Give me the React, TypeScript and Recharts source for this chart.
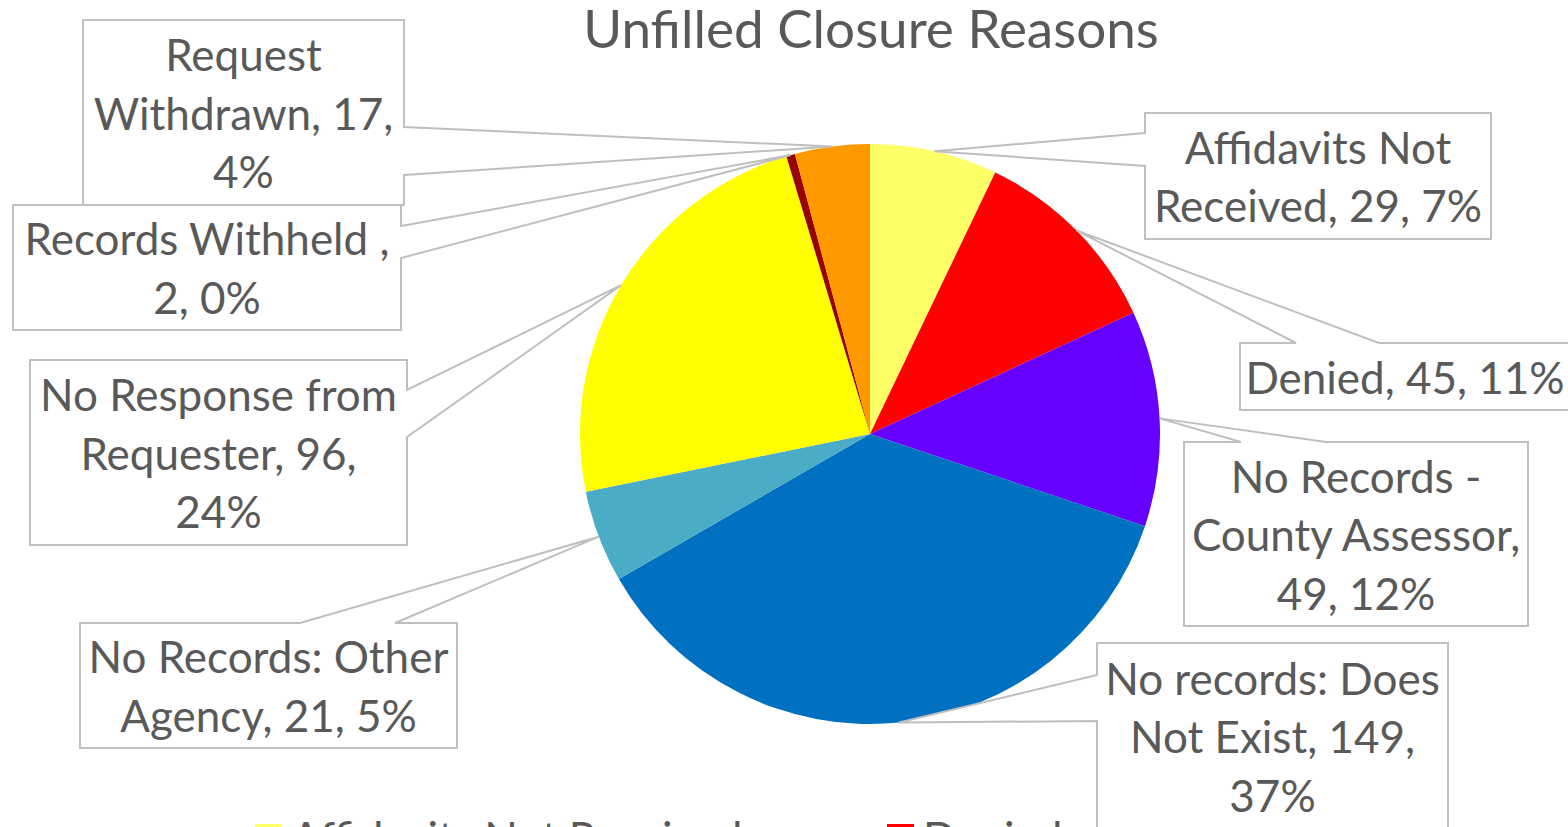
import { Cell, Legend, Pie, PieChart } from "recharts"

const reasons = [
  "Affidavits Not Received",
  "Denied",
  "No Records - County Assessor",
  "No records: Does Not Exist",
  "No Records: Other Agency",
  "No Response from Requester",
  "Records Withheld ",
  "Request Withdrawn",
]
const counts = [29, 45, 49, 149, 21, 96, 2, 17]
const colors = [
  "#FFFF66",
  "#FF0000",
  "#6600FF",
  "#0070C0",
  "#4BACC6",
  "#FFFF00",
  "#990000",
  "#FF9900",
]
// how many words of "name, value, pct%" go on each line of a callout
const wordsPerLine = [[2, 3], [3], [3, 2, 2], [3, 3, 1], [3, 3], [3, 2, 1], [3, 2], [1, 2, 1]]

const data = reasons.map((name, i) => ({ name, value: counts[i] }))

// callout boxes (layout only): side the pointer leaves from, a/b = pointer base offsets on that side
const callouts = [
  { x: 1145, y: 113, w: 346, h: 126, side: "left", a: 20, b: 53 },
  { x: 1240, y: 343, w: 330, h: 67, side: "top", a: 56, b: 139 },
  { x: 1184, y: 442, w: 344, h: 184, side: "top", a: 57, b: 142 },
  { x: 1097, y: 643, w: 351, h: 186, side: "left", a: 32, b: 78 },
  { x: 80, y: 623, w: 377, h: 125, side: "top", a: 220, b: 315 },
  { x: 30, y: 360, w: 377, h: 185, side: "right", a: 30, b: 77 },
  { x: 13, y: 205, w: 388, h: 125, side: "right", a: 21, b: 53 },
  { x: 83, y: 20, w: 321, h: 185, side: "right", a: 107, b: 155 },
]

const FONT = "Lato, 'Open Sans', sans-serif"
const TEXT = "#595959"
const LINE = "#BFBFBF"
const RAD = Math.PI / 180

const calloutPath = (
  box: (typeof callouts)[number],
  tx: number,
  ty: number,
) => {
  const { x, y, w, h, side, a, b } = box
  const tip = `L${tx},${ty}`
  let d = `M${x},${y}`
  if (side === "top") d += ` L${x + a},${y} ${tip} L${x + b},${y}`
  d += ` L${x + w},${y}`
  if (side === "right") d += ` L${x + w},${y + a} ${tip} L${x + w},${y + b}`
  d += ` L${x + w},${y + h} L${x},${y + h}`
  if (side === "left") d += ` L${x},${y + b} ${tip} L${x},${y + a}`
  return d + " Z"
}

const renderCallout = (props: any) => {
  const { cx, cy, midAngle, outerRadius, name, value, percent, index } = props
  const box = callouts[index]
  const tx = cx + outerRadius * Math.cos(-midAngle * RAD)
  const ty = cy + outerRadius * Math.sin(-midAngle * RAD)

  const words = `${name}, ${value}, ${Math.round(percent * 100)}%`.split(" ")
  const lines: string[] = []
  let k = 0
  for (const n of wordsPerLine[index]) {
    lines.push(words.slice(k, k + n).join(" "))
    k += n
  }
  const midY = box.y + box.h / 2 + 2
  const step = 58.5

  return (
    <g key={`callout-${index}`}>
      <path d={calloutPath(box, tx, ty)} fill="#FFFFFF" stroke={LINE} strokeWidth={2} />
      {lines.map((line, i) => (
        <text
          key={i}
          x={box.x + box.w / 2}
          y={midY + (i - (lines.length - 1) / 2) * step + 15}
          textAnchor="middle"
          fontFamily={FONT}
          fontSize={44}
          fill={TEXT}
        >
          {line}
        </text>
      ))}
    </g>
  )
}

const renderLegend = (props: any) => {
  const { payload = [] } = props
  return (
    <div style={{ display: "flex", flexWrap: "wrap", paddingLeft: 255 }}>
      {payload.map((entry: any, i: number) => (
        <div
          key={i}
          style={{ width: 632, height: 58, display: "flex", alignItems: "center" }}
        >
          <span
            style={{ width: 27, height: 27, background: entry.color, marginRight: 9 }}
          />
          <span style={{ fontFamily: FONT, fontSize: 44, color: TEXT }}>
            {entry.value}
          </span>
        </div>
      ))}
    </div>
  )
}

const App = () => {
  return (
    <div
      style={{
        position: "absolute",
        left: 0,
        top: 0,
        width: 1568,
        height: 827,
        overflow: "hidden",
        background: "#FFFFFF",
      }}
    >
      <PieChart width={1568} height={960}>
        <Pie
          data={data}
          dataKey="value"
          nameKey="name"
          cx={865}
          cy={429}
          outerRadius={290}
          startAngle={90}
          endAngle={-270}
          stroke="none"
          label={renderCallout}
          labelLine={false}
          isAnimationActive={false}
        >
          {data.map((d, i) => (
            <Cell key={d.name} fill={colors[i]} />
          ))}
        </Pie>
        <Legend
          content={renderLegend}
          wrapperStyle={{ left: 0, top: 808, width: 1568 }}
        />
      </PieChart>
      <svg
        width={1568}
        height={70}
        style={{ position: "absolute", left: 0, top: 0, pointerEvents: "none" }}
      >
        <text
          x={871}
          y={48}
          textAnchor="middle"
          fontFamily={FONT}
          fontSize={53}
          fill={TEXT}
        >
          Unfilled Closure Reasons
        </text>
      </svg>
    </div>
  )
}

export default App
